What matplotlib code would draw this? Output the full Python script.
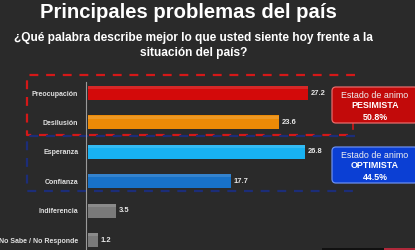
import matplotlib
matplotlib.use("Agg")
import matplotlib.pyplot as plt
from matplotlib.patches import FancyBboxPatch, Rectangle
from matplotlib.lines import Line2D

categories = ["Preocupación", "Desilusión", "Esperanza", "Confianza", "Indiferencia", "No Sabe / No Responde"]
values = [27.2, 23.6, 26.8, 17.7, 3.5, 1.2]
colors = ["#d30a0a", "#ec8a06", "#18b2f2", "#1872c8", "#7a7a7a", "#7a7a7a"]
value_labels = ["27.2", "23.6", "26.8", "17.7", "3.5", "1.2"]

title = "Principales problemas del país"
subtitle_lines = ["¿Qué palabra describe mejor lo que usted siente hoy frente a la", "situación del país?"]
box_texts = [("Estado de animo", "PESIMISTA", "50.8%"), ("Estado de animo", "OPTIMISTA", "44.5%")]

plt.rcParams["font.family"] = ["Liberation Sans", "DejaVu Sans"]

W, H = 415, 250
BG = "#2a2a2a"
fig = plt.figure(figsize=(W / 100, H / 100), dpi=100, facecolor=BG)
renderer = fig.canvas.get_renderer()


def fit(t, target_px):
    w = t.get_window_extent(renderer=renderer).width
    t.set_fontsize(t.get_fontsize() * target_px / w)


ov = fig.add_axes([0, 0, 1, 1], facecolor=BG)
ov.set_xlim(0, W)
ov.set_ylim(H, 0)
ov.axis("off")

x0, ppu = 88, 8.09
ax_top, ax_bot = 75, 250
ax = fig.add_axes([x0 / W, 0, (W - x0) / W, (ax_bot - ax_top) / H])
ax.set_facecolor("none")
ax.set_xlim(0, (W - x0) / ppu)
ytop = (ax_top - 93) / 29.4
ybot = (ax_bot - 93) / 29.4
ax.set_ylim(ybot, ytop)
ypos = list(range(len(categories)))
bh = 14 / 29.4
ax.barh(ypos, values, height=bh, color=colors, edgecolor="none", zorder=2)
ax.barh([y - bh * 0.38 for y in ypos], values, height=bh * 0.22, color="white", alpha=0.12,
        edgecolor="none", zorder=3)
for y, v, lab in zip(ypos, values, value_labels):
    ax.text(v + 0.35, y, lab, color="#e8e8e8", fontsize=5.4, fontweight="bold",
            va="center", ha="left")
ax.set_yticks(ypos)
ax.set_yticklabels(categories, color="#e0e0e0", fontsize=5.05, fontweight="bold")
ax.tick_params(axis="y", length=0, pad=7)
ax.set_xticks([])
for s in ax.spines.values():
    s.set_visible(False)

ov.add_line(Line2D([86, 86], [82, 250], color="#9a9a9a", lw=0.8))

t = ov.text(188, 13, title, color="white", fontsize=13, fontweight="bold", ha="center", va="center")
fit(t, 297)
s1 = ov.text(193, 38, subtitle_lines[0], color="white", fontsize=8, fontweight="bold",
             ha="center", va="center")
fit(s1, 361)
ov.text(194, 53, subtitle_lines[1], color="white", fontsize=s1.get_fontsize(),
        fontweight="bold", ha="center", va="center")

red = "#d41818"
navy = "#1c2d78"
dash = (0, (4, 3.5))
for xs, ys, c in [([355, 27, 27, 355], [75, 75, 135, 135], red),
                  ([355, 27, 27, 355], [136, 136, 191, 191], navy)]:
    ov.add_line(Line2D(xs, ys, color=c, lw=1.6, linestyle=dash, zorder=1))
ov.add_line(Line2D([353, 353], [123, 129], color=red, lw=1.2))

for (y0, y1, fc, ec), (l1, l2, l3) in zip([(87, 123, "#c20a0a", "#e86a6a"),
                                           (147, 183, "#0b3fd4", "#6a8ef0")], box_texts):
    p = FancyBboxPatch((332, y0), 86, y1 - y0, boxstyle="round,pad=0,rounding_size=4",
                       facecolor=fc, edgecolor=ec, lw=0.9, zorder=4)
    ov.add_patch(p)
    cx = 375
    a = ov.text(cx, y0 + 8, l1, color="#f0f0f0", fontsize=6.5, ha="center", va="center", zorder=5)
    fit(a, 67)
    fs = a.get_fontsize()
    ov.text(cx, y0 + 19, l2, color="white", fontsize=fs, fontweight="bold", ha="center", va="center", zorder=5)
    ov.text(cx, y0 + 30, l3, color="white", fontsize=fs, fontweight="bold", ha="center", va="center", zorder=5)

ov.add_patch(Rectangle((322, 248), 62, 2, facecolor="#111111", edgecolor="none"))
ov.add_patch(Rectangle((384, 248), 31, 2, facecolor="#b0283a", edgecolor="none"))

fig.savefig("out.png", dpi=100, facecolor=BG)
